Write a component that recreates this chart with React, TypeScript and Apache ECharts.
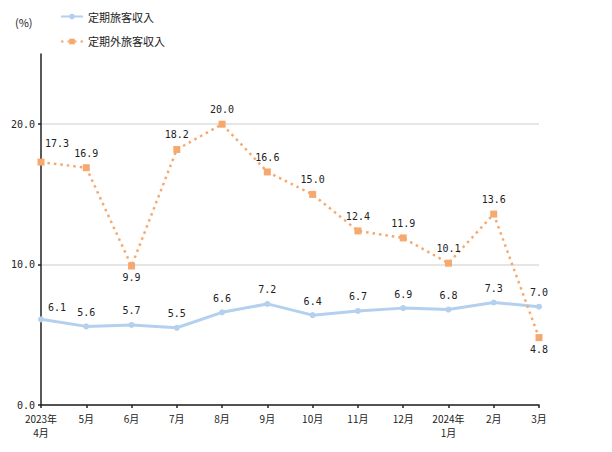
import React, { useEffect, useRef } from "react";
import * as echarts from "echarts";

const categories = [
  "2023年\n4月", "5月", "6月", "7月", "8月", "9月",
  "10月", "11月", "12月", "2024年\n1月", "2月", "3月",
];
const regular = [6.1, 5.6, 5.7, 5.5, 6.6, 7.2, 6.4, 6.7, 6.9, 6.8, 7.3, 7.0];
const nonRegular = [17.3, 16.9, 9.9, 18.2, 20.0, 16.6, 15.0, 12.4, 11.9, 10.1, 13.6, 4.8];
const seriesNames = ["定期旅客収入", "定期外旅客収入"];
const unitLabel = "(%)";

const numFont = "DejaVu Sans Mono";
const jpFont = "Noto Sans CJK JP";

export default function App() {
  const ref = useRef<HTMLDivElement>(null);
  useEffect(() => {
    if (!ref.current) return;
    const chart = echarts.init(ref.current, undefined, { renderer: "svg" });
    const blue = "#b3d0ee";
    const orange = "#f5a96f";
    const labelBase = {
      show: true,
      color: "#222",
      fontFamily: numFont,
      fontSize: 10,
      formatter: (p: any) => Number(p.value).toFixed(1),
    };
    chart.setOption({
      animation: false,
      title: {
        text: unitLabel,
        left: 10,
        top: 11,
        textStyle: { fontSize: 11, fontWeight: "normal", color: "#222", fontFamily: jpFont },
      },
      legend: {
        orient: "vertical",
        left: 55,
        top: 6,
        itemWidth: 22,
        itemHeight: 7,
        itemGap: 14,
        textStyle: { fontSize: 11, color: "#222", fontFamily: jpFont },
        data: seriesNames,
      },
      grid: { left: 41, right: 73, top: 54, bottom: 47, containLabel: false },
      xAxis: {
        type: "category",
        data: categories,
        boundaryGap: false,
        axisLine: { lineStyle: { color: "#222", width: 1.5 } },
        axisTick: { show: true, alignWithLabel: true, length: 3, lineStyle: { color: "#222", width: 1.5 } },
        axisLabel: {
          color: "#222",
          fontSize: 10,
          fontFamily: jpFont,
          margin: 6,
          lineHeight: 14,
          interval: 0,
        },
      },
      yAxis: {
        type: "value",
        min: 0,
        max: 25,
        interval: 10,
        axisLine: { show: true, lineStyle: { color: "#222", width: 1.5 } },
        axisTick: { show: true, length: 3, lineStyle: { color: "#222", width: 1.5 } },
        axisLabel: {
          color: "#222",
          fontSize: 10,
          fontFamily: numFont,
          margin: 6,
          showMaxLabel: false,
          formatter: (v: number) => (v % 10 === 0 ? v.toFixed(1) : ""),
        },
        splitLine: {
          show: true,
          lineStyle: { color: ["#dddddd", "#dddddd", "#dddddd", "rgba(0,0,0,0)"], width: 1.5 },
        },
      },
      series: [
        {
          name: seriesNames[0],
          type: "line",
          data: regular.map((v, i) =>
            i === 0 ? { value: v, label: { offset: [16, 2] } } : v
          ),
          symbol: "circle",
          symbolSize: 6,
          itemStyle: { color: blue },
          lineStyle: { color: blue, width: 3 },
          label: { ...labelBase, position: "top", distance: 6 },
        },
        {
          name: seriesNames[1],
          type: "line",
          data: nonRegular.map((v, i) => {
            if (i === 0) return { value: v, label: { offset: [16, -4] } };
            if (i === 2 || i === 11) return { value: v, label: { position: "bottom", distance: 3 } };
            return v;
          }),
          symbol: "rect",
          symbolSize: 7,
          itemStyle: { color: orange },
          lineStyle: { color: orange, width: 2.5, type: [2.5, 4] },
          label: { ...labelBase, position: "top", distance: 6 },
        },
      ],
    });
    return () => chart.dispose();
  }, []);
  return (
    <div
      ref={ref}
      style={{ position: "fixed", left: 0, top: 0, width: 612, height: 452, background: "#fff" }}
    />
  );
}
